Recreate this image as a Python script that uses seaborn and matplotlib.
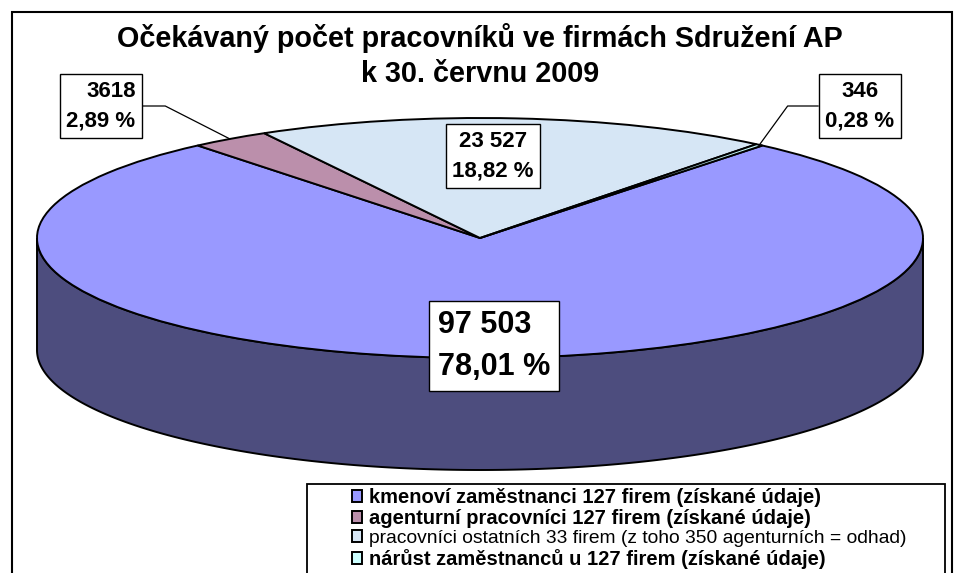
import numpy as np
import matplotlib
matplotlib.use("Agg")
import matplotlib.pyplot as plt
from matplotlib.patches import Rectangle
import seaborn as sns

sns.set_theme(style="white")
plt.rcParams['font.family'] = ['Liberation Sans', 'DejaVu Sans']
plt.rcParams['text.color'] = 'black'

# Data
categories = [
    "kmenoví zaměstnanci 127 firem (získané údaje)",
    "agenturní pracovníci 127 firem (získané údaje)",
    "pracovníci ostatních 33 firem (z toho 350 agenturních = odhad)",
    "nárůst zaměstnanců u 127 firem (získané údaje)",
]
values = [97503, 3618, 23527, 346]
value_labels = ["97 503", "3618", "23 527", "346"]
bold_legend = [True, True, False, True]

top_colors = ["#9999FF", "#BB8FAB", "#D6E6F5", "#CCFFFF"]
side_colors = ["#4D4D7E", "#6E4E62", "#8A99A8", "#88AAAA"]

W, H = 960, 573
fig = plt.figure(figsize=(W / 100, H / 100), dpi=100)
ax = fig.add_axes([0, 0, 1, 1])

# top of the pie
wedges, _ = ax.pie(values, colors=top_colors, startangle=50.4, counterclock=False,
                   radius=1, wedgeprops=dict(edgecolor="black", linewidth=1.4))
ax.set_aspect("auto")
# ellipse: centre (480, 238) px, semi axes 443 x 120 px
ax.set_xlim(-480 / 443, 480 / 443)
ax.set_ylim(-(H - 238) / 120, 238 / 120)
ax.axis("off")

# side of the pie (front half only)
depth = 112 / 120
for w, c in zip(wedges, side_colors):
    t = np.radians(np.linspace(w.theta1, w.theta2, 600))
    m = np.sin(t) <= 0
    if m.sum() < 2:
        continue
    xs, ys = np.cos(t[m]), np.sin(t[m])
    ax.fill(np.concatenate([xs, xs[::-1]]), np.concatenate([ys, ys[::-1] - depth]),
            facecolor=c, edgecolor="black", linewidth=1.4, zorder=0)

# labels
total = sum(values)
pct = [f"{v / total * 100:.2f}".replace(".", ",") + " %" for v in values]
box = dict(boxstyle="square,pad=0.3", fc="white", ec="black", lw=1)

# (x, y) centre of the label box in pixels, font size, alignment, leader angle
label_pos = [(494, 346), (101, 106), (493, 156), (860, 106)]
label_size = [22, 16, 16, 16]
label_align = ["left", "right", "center", "center"]
leader = [None, 153, None, 54]

for i, w in enumerate(wedges):
    mid = np.radians((w.theta1 + w.theta2) / 2)
    anchor = (np.cos(mid), np.sin(mid))
    x, y = label_pos[i]
    arrow = None
    if leader[i] is not None:
        arrow = dict(arrowstyle="-", color="black", lw=0.9, shrinkA=0, shrinkB=0,
                     connectionstyle=f"angle,angleA=0,angleB={leader[i]},rad=0")
    ax.annotate(f"{value_labels[i]}\n{pct[i]}", xy=anchor, xytext=(x, H - y),
                textcoords="figure pixels", ha="center", va="center",
                multialignment=label_align[i], fontsize=label_size[i],
                fontweight="bold", linespacing=1.55,
                bbox=box, arrowprops=arrow, zorder=5)

# title
fig.text(0.5, 1 - 38 / H, "Očekávaný počet pracovníků ve firmách Sdružení AP",
         ha="center", va="center", fontsize=20.7, fontweight="bold")
fig.text(0.5, 1 - 74 / H, "k 30. červnu 2009",
         ha="center", va="center", fontsize=20.7, fontweight="bold")

# legend
leg = fig.legend(wedges, categories, loc="upper left",
                 bbox_to_anchor=(352 / W, 1 - 488 / H), frameon=False,
                 fontsize=14.5, handlelength=0.5, handleheight=0.5,
                 handletextpad=0.35, labelspacing=0.1, borderpad=0,
                 borderaxespad=0)
for txt, b in zip(leg.get_texts(), bold_legend):
    txt.set_fontweight("bold" if b else "normal")
    if not b:
        txt.set_fontsize(13.9)

# frames
fig.patches.append(Rectangle((307 / W, -0.1), (945 - 307) / W, (H - 484) / H + 0.1,
                             transform=fig.transFigure, fill=False, ec="black", lw=1.3))
fig.patches.append(Rectangle((12 / W, -0.1), (952 - 12) / W, (H - 12) / H + 0.1,
                             transform=fig.transFigure, fill=False, ec="black", lw=1.5))

fig.savefig("out.png", dpi=100, facecolor="white")
